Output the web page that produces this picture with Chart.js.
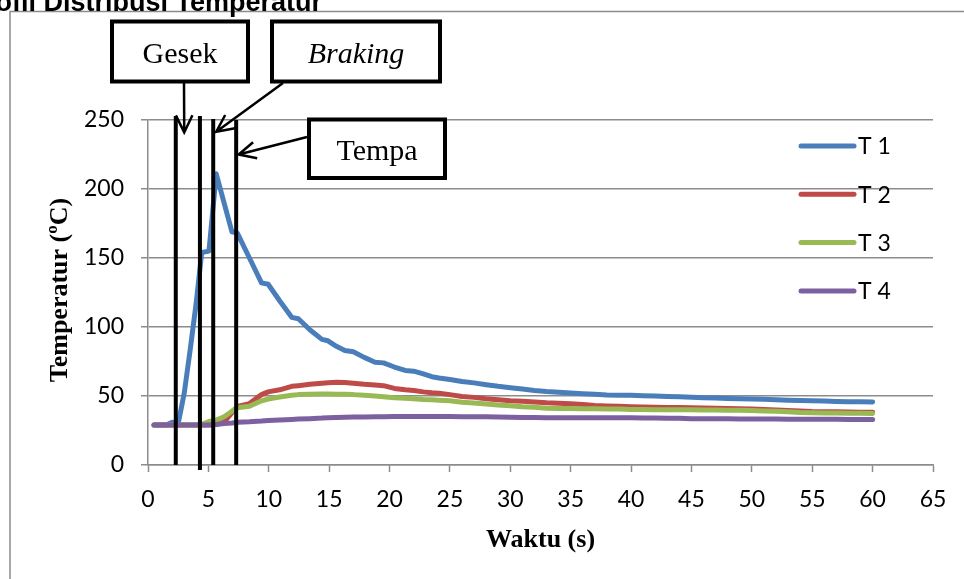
<!DOCTYPE html>
<html>
<head>
<meta charset="utf-8">
<title>Profil Distribusi Temperatur</title>
<script src="https://cdn.jsdelivr.net/npm/chart.js@4.4.1/dist/chart.umd.min.js"></script>
<style>
    html, body { margin: 0; padding: 0; background: #fff; }
    #wadah { position: relative; width: 964px; height: 579px; }
</style>
</head>
<body>
<div id="wadah"><canvas id="grafik"></canvas></div>
<script>
// waktu pengukuran (s)
const waktu = [0.5, 1, 1.5, 2, 2.5, 3, 3.5, 4,
    4.45, 5.05, 5.65, 6.3, 6.95, 7.4, 8.4, 9.4, 9.95, 10.9,
    11.9, 12.45, 13.4, 14.4, 14.9, 15.6, 16.3, 17, 17.9, 18.8,
    19.5, 20.4, 21.3, 22, 22.8, 23.5, 24.1,
    25, 26, 27, 28, 29, 30, 31, 32, 33, 34,
    35, 36, 37, 38, 39, 40, 41, 42, 43, 44,
    45, 46, 47, 48, 49, 50, 51, 52, 53, 54,
    55, 56, 57, 58, 59, 60];

// temperatur tiap titik (ºC)
const suhuT1 = [29, 29, 29, 31, 30, 52, 84, 118,
    154, 155, 211, 190, 169, 168, 150, 132, 131, 119,
    107, 106, 98, 91, 90, 86, 83, 82, 78, 74.5,
    74, 71, 68.5, 68, 66, 64, 63,
    62, 60.5, 59.5, 58.2, 57, 56, 55, 54, 53.3, 52.8,
    52.2, 51.7, 51.2, 50.8, 50.6, 50.5, 50.2, 50, 49.7, 49.4,
    49.1, 48.8, 48.5, 48.2, 48, 47.8, 47.6, 47.3, 47, 46.8,
    46.5, 46.3, 46.1, 45.9, 45.8, 45.7];
const suhuT2 = [29, 29, 29, 29, 29, 29, 29, 29,
    29, 29, 29.5, 31, 38, 42.5, 44.5, 51, 53, 54.5,
    57, 57.5, 58.5, 59.2, 59.6, 60, 59.8, 59.3, 58.5, 58,
    57.5, 55.5, 54.5, 54, 53, 52.3, 52,
    51, 49.7, 49, 48, 47.2, 46.5, 46.2, 45.6, 45.1, 44.8,
    44.3, 43.8, 43.2, 42.8, 42.5, 42.3, 42.1, 41.9, 41.7, 41.6,
    41.5, 41.3, 41.1, 40.9, 40.7, 40.5, 40.2, 39.9, 39.5, 39.2,
    38.8, 38.6, 38.5, 38.4, 38.3, 38.2];
const suhuT3 = [29, 29, 29, 29, 29, 29, 29, 29,
    29.5, 31.5, 32.5, 35, 39, 41.5, 42.5, 46.5, 47.8, 49.3,
    50.5, 51, 51.3, 51.5, 51.5, 51.3, 51.2, 51, 50.5, 50,
    49.5, 48.8, 48.3, 48, 47.5, 47.2, 47,
    46.5, 45.5, 45, 44.2, 43.5, 43, 42.2, 41.8, 41.2, 41,
    41, 40.8, 40.7, 40.6, 40.5, 40.3, 40.2, 40.1, 40, 40,
    40, 39.9, 39.8, 39.7, 39.6, 39.5, 39.2, 39, 38.5, 38,
    37.8, 37.7, 37.6, 37.5, 37.5, 37.4];
const suhuT4 = [29, 29, 29, 29, 29, 29, 29, 29,
    29, 29, 29.3, 30, 30.5, 31, 31.3, 31.8, 32.2, 32.6,
    33, 33.3, 33.6, 34, 34.3, 34.5, 34.6, 34.7, 34.8, 35,
    35, 35.1, 35.2, 35.2, 35.2, 35.2, 35.1,
    35.1, 35, 35, 34.9, 34.7, 34.6, 34.5, 34.4, 34.3, 34.3,
    34.3, 34.3, 34.3, 34.3, 34.3, 34.3, 34.1, 34, 33.9, 33.8,
    33.6, 33.6, 33.5, 33.5, 33.4, 33.4, 33.3, 33.3, 33.2, 33.2,
    33.1, 33.1, 33.1, 33, 33, 33];

const namaSeri = ['T 1', 'T 2', 'T 3', 'T 4'];
const warnaSeri = ['#4a7ebb', '#be4b48', '#98b954', '#7d60a0'];
const tickWaktu = [0, 5, 10, 15, 20, 25, 30, 35, 40, 45, 50, 55, 60, 65];
const tickSuhu = [0, 50, 100, 150, 200, 250];

// batas tahap proses (s) dan label kotak keterangan
const batasFase = [2.3, 4.3, 5.4, 7.3];
const labelFase = ['Gesek', 'Braking', 'Tempa'];

const semuaSuhu = [suhuT1, suhuT2, suhuT3, suhuT4];

function panah(ctx, x1, y1, x2, y2) {
    const sudut = Math.atan2(y2 - y1, x2 - x1);
    const pjg = 19, buka = 0.45;
    ctx.beginPath();
    ctx.moveTo(x1, y1);
    ctx.lineTo(x2, y2);
    ctx.moveTo(x2 - pjg * Math.cos(sudut - buka), y2 - pjg * Math.sin(sudut - buka));
    ctx.lineTo(x2, y2);
    ctx.lineTo(x2 - pjg * Math.cos(sudut + buka), y2 - pjg * Math.sin(sudut + buka));
    ctx.stroke();
}

function kotak(ctx, x, y, w, h, teks, miring) {
    ctx.fillStyle = '#fff';
    ctx.fillRect(x, y, w, h);
    ctx.lineWidth = 4;
    ctx.strokeStyle = '#000';
    ctx.strokeRect(x, y, w, h);
    ctx.fillStyle = '#000';
    ctx.font = (miring ? 'italic ' : '') + '30px "Liberation Serif"';
    ctx.textAlign = 'center';
    ctx.textBaseline = 'alphabetic';
    ctx.fillText(teks, x + w / 2, y + h / 2 + 11);
}

const anotasi = {
    id: 'anotasi',
    beforeDraw(chart) {
        const ctx = chart.ctx;
        ctx.save();
        ctx.fillStyle = '#fff';
        ctx.fillRect(0, 0, chart.width, chart.height);
        ctx.strokeStyle = '#8c8c8c';
        ctx.lineWidth = 1.5;
        ctx.strokeRect(10, 11.5, 1000, 700);
        ctx.restore();
    },
    afterDatasetsDraw(chart) {
        const {ctx, chartArea} = chart;
        const x = chart.scales.x, y = chart.scales.y;
        ctx.save();

        // garis batas tahap
        ctx.strokeStyle = '#000';
        ctx.lineWidth = 4;
        const puncak = [116, 116, 119, 120];
        const dasar = [chartArea.bottom, chartArea.bottom + 5, chartArea.bottom, chartArea.bottom];
        batasFase.forEach((t, i) => {
            const px = x.getPixelForValue(t);
            ctx.beginPath();
            ctx.moveTo(px, puncak[i]);
            ctx.lineTo(px, dasar[i]);
            ctx.stroke();
        });

        // panah keterangan
        ctx.lineWidth = 2.5;
        panah(ctx, 184, 83, x.getPixelForValue(3.0), y.getPixelForValue(241));
        panah(ctx, 283, 83, x.getPixelForValue(5.65), y.getPixelForValue(241.5));
        panah(ctx, 307, 137, x.getPixelForValue(7.5), y.getPixelForValue(225));

        kotak(ctx, 112, 21.5, 136, 60, labelFase[0], false);
        kotak(ctx, 272, 21.5, 168, 60, labelFase[1], true);
        kotak(ctx, 309, 119.5, 136, 58.5, labelFase[2], false);

        // legenda di dalam area plot
        ctx.lineCap = 'round';
        ctx.font = '23px Lato';
        ctx.textAlign = 'left';
        ctx.textBaseline = 'middle';
        namaSeri.forEach((nama, i) => {
            const ly = 146 + i * 48.3;
            ctx.strokeStyle = warnaSeri[i];
            ctx.lineWidth = 5;
            ctx.beginPath();
            ctx.moveTo(801, ly);
            ctx.lineTo(854, ly);
            ctx.stroke();
            ctx.fillStyle = '#000';
            ctx.fillText(nama, 858, ly + 1);
        });
        ctx.restore();
    },
    afterDraw(chart) {
        const ctx = chart.ctx;
        ctx.save();
        ctx.fillStyle = '#000';
        ctx.font = 'bold 27px "Liberation Sans"';
        ctx.textAlign = 'left';
        ctx.textBaseline = 'alphabetic';
        ctx.fillText('Profil Distribusi Temperatur', -33, 11);

        ctx.translate(60, 290);
        ctx.rotate(-Math.PI / 2);
        ctx.font = 'bold 26px "Liberation Serif"';
        ctx.textAlign = 'center';
        ctx.textBaseline = 'middle';
        ctx.fillText('Temperatur (ºC)', 0, 0);
        ctx.restore();
    }
};

const ctx = document.getElementById('grafik').getContext('2d');
new Chart(ctx, {
    type: 'line',
    data: {
        datasets: namaSeri.map((nama, i) => ({
            label: nama,
            data: waktu.map((t, j) => ({x: t, y: semuaSuhu[i][j]})),
            borderColor: warnaSeri[i],
            backgroundColor: warnaSeri[i],
            borderWidth: 5,
            borderCapStyle: 'round',
            borderJoinStyle: 'round',
            pointRadius: 0,
            tension: 0,
            fill: false,
            order: namaSeri.length - i
        }))
    },
    options: {
        responsive: true,
        maintainAspectRatio: false,
        animation: false,
        layout: {
            padding: {left: 0, top: 120, right: 31, bottom: 0}
        },
        plugins: {
            legend: {display: false},
            tooltip: {enabled: false}
        },
        scales: {
            x: {
                type: 'linear',
                min: tickWaktu[0],
                max: tickWaktu[tickWaktu.length - 1],
                afterBuildTicks: scale => {
                    scale.ticks = tickWaktu.map(v => ({value: v}));
                },
                afterFit: scale => {
                    scale.height = 114;
                },
                grid: {
                    drawOnChartArea: false,
                    drawTicks: true,
                    tickLength: 7,
                    tickWidth: 1.5,
                    tickColor: '#8c8c8c'
                },
                border: {color: '#8c8c8c', width: 1.5},
                ticks: {
                    color: '#000',
                    padding: 14,
                    maxRotation: 0,
                    autoSkip: false,
                    font: {family: 'Lato', size: 23}
                },
                title: {
                    display: true,
                    text: 'Waktu (s)',
                    color: '#000',
                    font: {family: 'Liberation Serif', size: 26, weight: 'bold'},
                    padding: {top: 0, bottom: 23}
                }
            },
            y: {
                min: tickSuhu[0],
                max: tickSuhu[tickSuhu.length - 1],
                afterBuildTicks: scale => {
                    scale.ticks = tickSuhu.map(v => ({value: v}));
                },
                afterFit: scale => {
                    scale.width = 148;
                },
                grid: {
                    color: '#8c8c8c',
                    lineWidth: 1.5,
                    drawTicks: true,
                    tickLength: 7
                },
                border: {color: '#8c8c8c', width: 1.5},
                ticks: {
                    color: '#000',
                    padding: 17,
                    font: {family: 'Lato', size: 23}
                }
            }
        }
    },
    plugins: [anotasi]
});
</script>
</body>
</html>
